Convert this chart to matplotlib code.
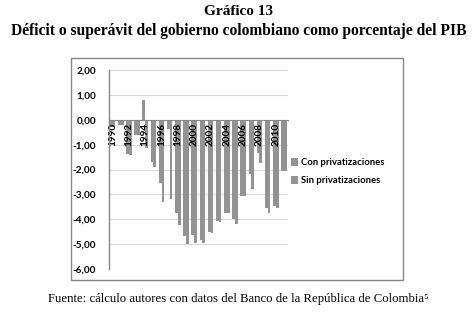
import numpy as np
import matplotlib.pyplot as plt
from matplotlib.patches import Rectangle

# data (% of GDP)
years = list(range(1990, 2012))
con_priv = [-0.30, -0.20, -1.38, -0.60, 0.78, -1.70, -2.56, -0.38, -3.76, -4.67, -4.63,
            -4.83, -4.53, -4.09, -3.73, -4.00, -3.05, -2.20, -1.33, -3.56, -3.47, -2.05]
sin_priv = [-0.30, -0.20, -1.40, -0.60, -1.15, -1.90, -3.29, -3.19, -4.23, -5.00, -4.96,
            -4.96, -4.55, -4.10, -3.75, -4.19, -3.07, -2.80, -1.73, -3.76, -3.56, -2.07]
yticks = [2, 1, 0, -1, -2, -3, -4, -5, -6]

bar_col = "#939393"
tick_font = "Lato"

fig = plt.figure(figsize=(4.77, 3.12), dpi=100)
ax = fig.add_axes([0.2275, 0.1378, 0.3763, 0.6378])

x = np.arange(len(years))
w = 0.34
ax.bar(x - w / 2, con_priv, width=w, color=bar_col, label="Con privatizaciones", zorder=3)
ax.bar(x + w / 2, sin_priv, width=w, color=bar_col, label="Sin privatizaciones", zorder=3)

ax.set_xlim(-0.5, len(years) - 0.5)
ax.set_ylim(-6, 2)
ax.set_yticks(yticks)
ax.set_yticklabels([f"{v:.2f}".replace(".", ",") for v in yticks],
                   fontsize=7.2, fontweight="bold", family=tick_font)
ax.yaxis.grid(True, color="#d9d9d9", lw=0.8)
ax.tick_params(axis="y", length=0, pad=9)

# category axis crosses at zero, labels every other year
ax.spines["bottom"].set_position(("data", 0))
ax.spines["bottom"].set_color("#868686")
ax.spines["bottom"].set_zorder(4)
ax.spines["left"].set_visible(False)
ax.spines["top"].set_visible(False)
ax.spines["right"].set_visible(False)
ax.axvline(-0.5, color="#868686", lw=1.0, zorder=6, clip_on=False)
ax.set_xticks(x[::2])
ax.set_xticklabels([str(y) for y in years[::2]], rotation=90,
                   fontsize=7.2, fontweight="bold", family=tick_font)
ax.tick_params(axis="x", length=0, pad=2)
# year labels over the bars, grid under them
ax.xaxis.set_zorder(5)
ax.yaxis.set_zorder(0.5)

leg = fig.legend(loc="upper left", bbox_to_anchor=(0.592, 0.520), frameon=False,
                 prop={"family": tick_font, "weight": "bold", "size": 6.8},
                 handlelength=0.8, handleheight=0.8, handletextpad=0.3, labelspacing=0.95)

# outer chart frame
fig.patches.append(Rectangle((0.148, 0.103), 0.697, 0.711, transform=fig.transFigure,
                             fill=False, edgecolor="#868686", lw=1))

fig.text(0.5, 0.962, "Gráfico 13", ha="center", va="center",
         family="Liberation Serif", fontweight="bold", fontsize=11)
fig.text(0.5, 0.900, "Déficit o superávit del gobierno colombiano como porcentaje del PIB",
         ha="center", va="center", family="Liberation Serif", fontweight="bold", fontsize=11.2)
fig.text(0.5, 0.042, "Fuente: cálculo autores con datos del Banco de la República de Colombia⁵",
         ha="center", va="center", family="Liberation Serif", fontsize=9.2)

fig.savefig("out.png", dpi=100)
